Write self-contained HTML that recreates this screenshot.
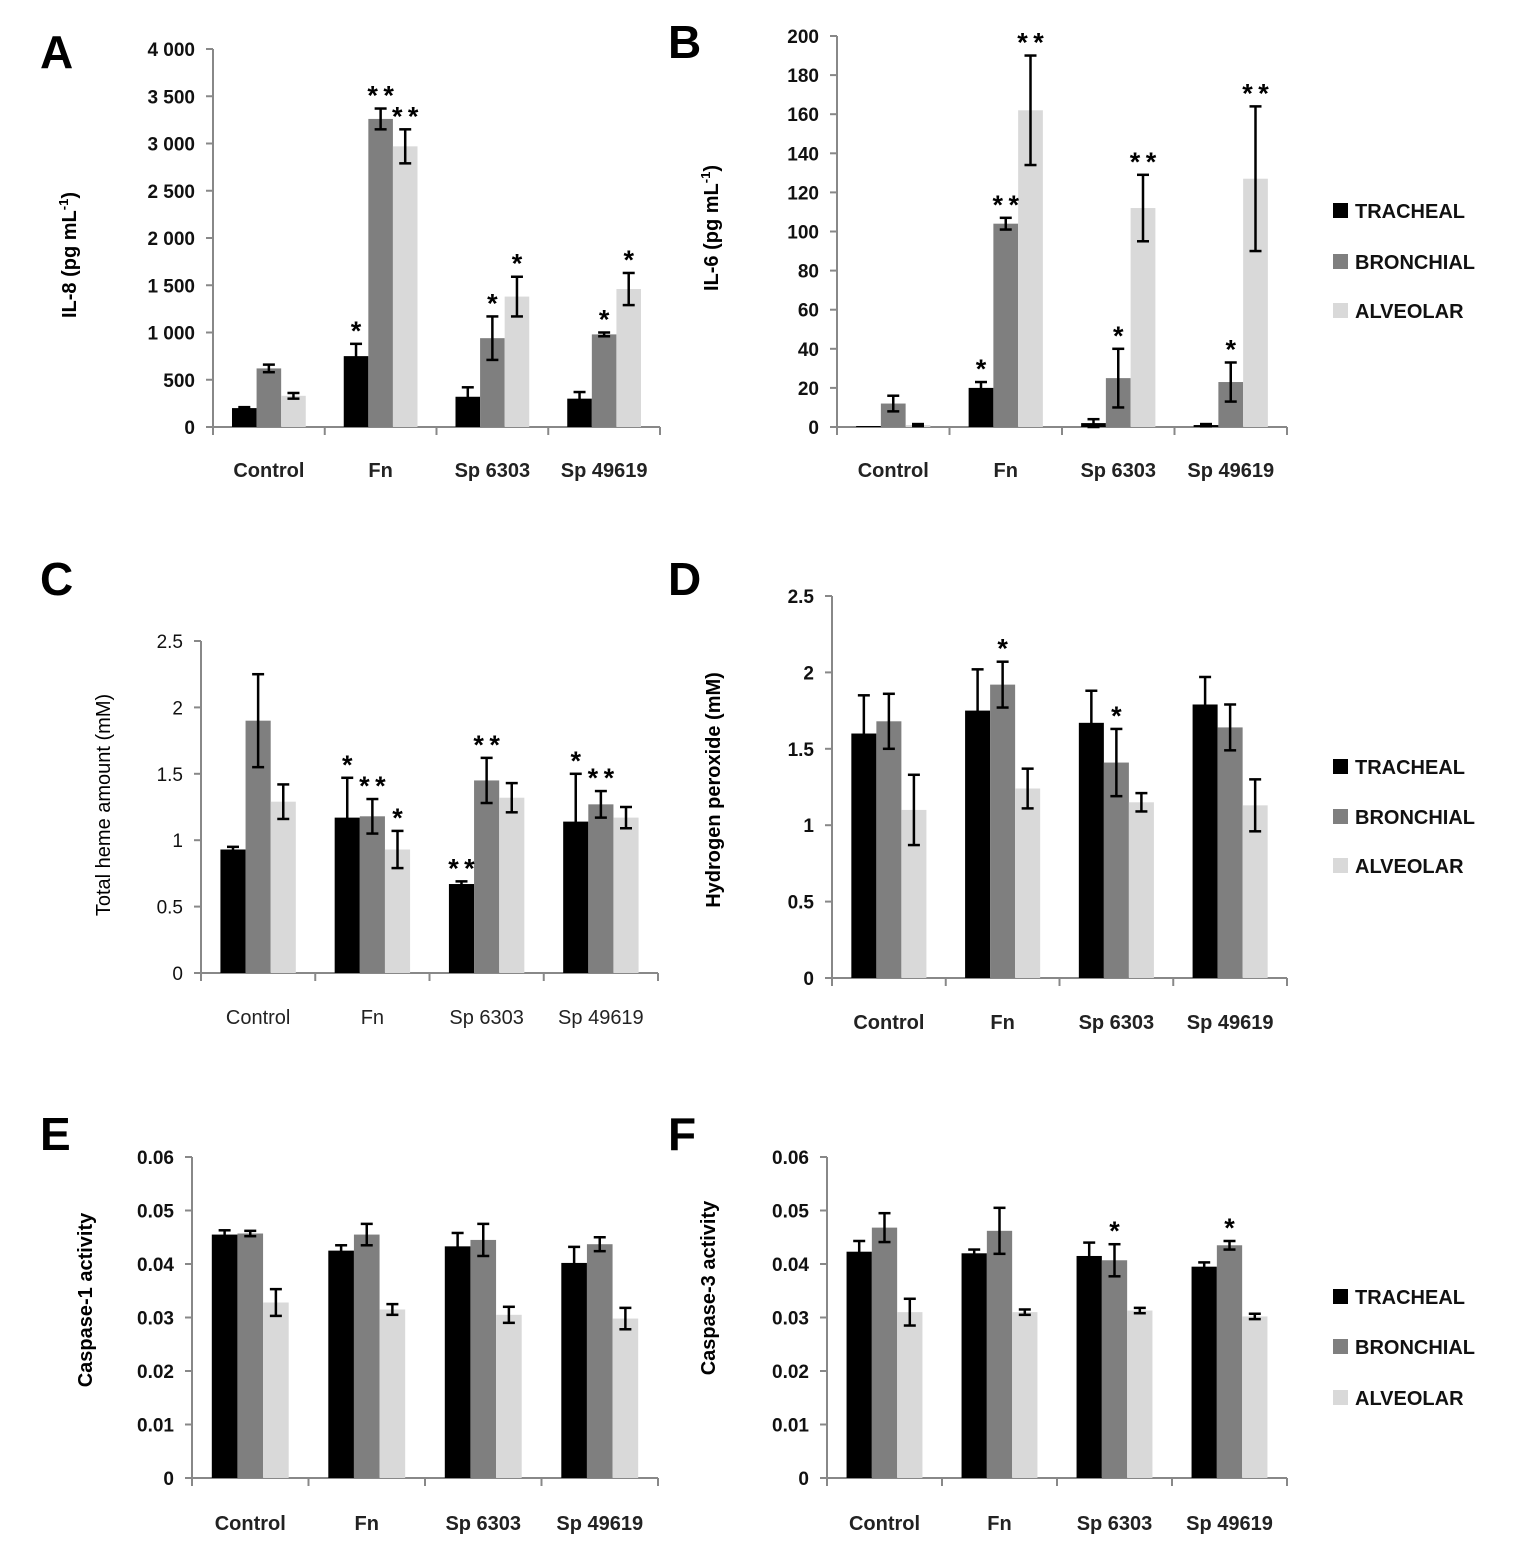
<!DOCTYPE html>
<html><head><meta charset="utf-8"><style>
html,body{margin:0;padding:0;background:#fff;}
svg{display:block;font-family:"Liberation Sans","DejaVu Sans",sans-serif;}
</style></head><body>
<svg id="fig" width="1520" height="1560" viewBox="0 0 1520 1560" xmlns="http://www.w3.org/2000/svg"></svg>
<script>
const categories = ["Control","Fn","Sp 6303","Sp 49619"];
const seriesNames = ["TRACHEAL","BRONCHIAL","ALVEOLAR"];
// Panel A IL-8
const aTracheal=[200,750,320,300], aTrachealErr=[10,130,100,70];
const aBronchial=[620,3260,940,980], aBronchialErr=[40,110,230,20];
const aAlveolar=[330,2970,1380,1460], aAlveolarErr=[30,180,210,170];
const aStars=[["","",""],["*","**","**"],["","*","*"],["","*","*"]];
const aTicks=["0","500","1 000","1 500","2 000","2 500","3 000","3 500","4 000"];
// Panel B IL-6
const bTracheal=[0.5,20,2,1], bTrachealErr=[0,3,2,0.5];
const bBronchial=[12,104,25,23], bBronchialErr=[4,3,15,10];
const bAlveolar=[1,162,112,127], bAlveolarErr=[0.5,28,17,37];
const bStars=[["","",""],["*","**","**"],["","*","**"],["","*","**"]];
const bTicks=["0","20","40","60","80","100","120","140","160","180","200"];
// Panel C heme
const cTracheal=[0.93,1.17,0.67,1.14], cTrachealErr=[0.02,0.3,0.02,0.36];
const cBronchial=[1.9,1.18,1.45,1.27], cBronchialErr=[0.35,0.13,0.17,0.1];
const cAlveolar=[1.29,0.93,1.32,1.17], cAlveolarErr=[0.13,0.14,0.11,0.08];
const cStars=[["","",""],["*","**","*"],["**","**",""],["*","**",""]];
const cTicks=["0","0.5","1","1.5","2","2.5"];
// Panel D H2O2
const dTracheal=[1.6,1.75,1.67,1.79], dTrachealErr=[0.25,0.27,0.21,0.18];
const dBronchial=[1.68,1.92,1.41,1.64], dBronchialErr=[0.18,0.15,0.22,0.15];
const dAlveolar=[1.1,1.24,1.15,1.13], dAlveolarErr=[0.23,0.13,0.06,0.17];
const dStars=[["","",""],["","*",""],["","*",""],["","",""]];
const dTicks=["0","0.5","1","1.5","2","2.5"];
// Panel E caspase-1
const eTracheal=[0.0455,0.0425,0.0433,0.0402], eTrachealErr=[0.0008,0.001,0.0025,0.003];
const eBronchial=[0.0457,0.0455,0.0445,0.0437], eBronchialErr=[0.0005,0.002,0.003,0.0013];
const eAlveolar=[0.0328,0.0315,0.0305,0.0298], eAlveolarErr=[0.0025,0.001,0.0015,0.002];
const eStars=[["","",""],["","",""],["","",""],["","",""]];
const eTicks=["0","0.01","0.02","0.03","0.04","0.05","0.06"];
// Panel F caspase-3
const fTracheal=[0.0423,0.042,0.0415,0.0395], fTrachealErr=[0.002,0.0007,0.0025,0.0008];
const fBronchial=[0.0468,0.0462,0.0407,0.0435], fBronchialErr=[0.0027,0.0043,0.003,0.0008];
const fAlveolar=[0.031,0.031,0.0313,0.0302], fAlveolarErr=[0.0025,0.0005,0.0005,0.0005];
const fStars=[["","",""],["","",""],["","*",""],["","*",""]];
const fTicks=["0","0.01","0.02","0.03","0.04","0.05","0.06"];

const NS="http://www.w3.org/2000/svg";
const svg=document.getElementById('fig');
const colors=["#000000","#7f7f7f","#d9d9d9"];
function mk(tag,attrs,parent,text){const e=document.createElementNS(NS,tag);for(const k in attrs)e.setAttribute(k,attrs[k]);if(text!==undefined)e.textContent=text;(parent||svg).appendChild(e);return e;}

const panels=[
 {id:"a",letter:"A",lx:40,ly:68,x0:213,x1:660,y0:427,y1:49,max:4000,ticks:aTicks,title:"IL-8 (pg mL",sup:"-1",tx:76,ty:255,lab:470,light:false,vals:[aTracheal,aBronchial,aAlveolar],errs:[aTrachealErr,aBronchialErr,aAlveolarErr],stars:aStars},
 {id:"b",letter:"B",lx:668,ly:58,x0:837,x1:1287,y0:427,y1:36,max:200,ticks:bTicks,title:"IL-6 (pg mL",sup:"-1",tx:718,ty:228,lab:470,light:false,vals:[bTracheal,bBronchial,bAlveolar],errs:[bTrachealErr,bBronchialErr,bAlveolarErr],stars:bStars,legend:[211,262,311]},
 {id:"c",letter:"C",lx:40,ly:595,x0:201,x1:658,y0:973,y1:641,max:2.5,ticks:cTicks,title:"Total heme amount (mM)",tx:110,ty:805,lab:1017,light:true,vals:[cTracheal,cBronchial,cAlveolar],errs:[cTrachealErr,cBronchialErr,cAlveolarErr],stars:cStars},
 {id:"d",letter:"D",lx:668,ly:595,x0:832,x1:1287,y0:978,y1:596,max:2.5,ticks:dTicks,title:"Hydrogen peroxide (mM)",tx:720,ty:790,lab:1022,light:false,vals:[dTracheal,dBronchial,dAlveolar],errs:[dTrachealErr,dBronchialErr,dAlveolarErr],stars:dStars,legend:[767,817,866]},
 {id:"e",letter:"E",lx:40,ly:1150,x0:192,x1:658,y0:1478,y1:1157,max:0.06,ticks:eTicks,title:"Caspase-1 activity",tx:92,ty:1300,lab:1523,light:false,vals:[eTracheal,eBronchial,eAlveolar],errs:[eTrachealErr,eBronchialErr,eAlveolarErr],stars:eStars},
 {id:"f",letter:"F",lx:668,ly:1150,x0:827,x1:1287,y0:1478,y1:1157,max:0.06,ticks:fTicks,title:"Caspase-3 activity",tx:715,ty:1288,lab:1523,light:false,vals:[fTracheal,fBronchial,fAlveolar],errs:[fTrachealErr,fBronchialErr,fAlveolarErr],stars:fStars,legend:[1297,1347,1398]}
];

panels.forEach(p=>{
  const g=mk('g',{});
  
  
  const yS=v=>p.y0-(v/p.max)*(p.y0-p.y1);
  const gw=(p.x1-p.x0)/categories.length;
  const bw=gw*0.22;
  const fw=p.light?"normal":"bold";
  const L=mk('text',{x:p.lx,y:p.ly,'font-size':46,'font-weight':'bold'},g,p.letter);
  
  
  const ya=mk('line',{x1:p.x0,y1:p.y0,x2:p.x0,y2:p.y1,stroke:'#888','stroke-width':2},g);
  
  
  p.ticks.forEach((t,i)=>{
    const y=p.y0-i*(p.y0-p.y1)/(p.ticks.length-1);
    mk('line',{x1:p.x0-7,y1:y,x2:p.x0,y2:y,stroke:'#888','stroke-width':2},g);
    const tl=mk('text',{x:p.x0-18,y:y+7,'font-size':19,'font-weight':fw,'text-anchor':'end',fill:'#111'},g,t);
    
    
  });
  const xa=mk('line',{x1:p.x0,y1:p.y0,x2:p.x1,y2:p.y0,stroke:'#888','stroke-width':2},g);
  
  
  for(let i=0;i<=categories.length;i++){const x=p.x0+i*gw;mk('line',{x1:x,y1:p.y0,x2:x,y2:p.y0+8,stroke:'#888','stroke-width':2},g);}
  const tt=mk('text',{x:0,y:0,'font-size':20,'font-weight':fw,'text-anchor':'middle',transform:`translate(${p.tx},${p.ty}) rotate(-90)`},g,p.title);
  if(p.sup){mk('tspan',{'font-size':13,dy:-8},tt,p.sup);mk('tspan',{dy:8},tt,")");}
  
  
  const barLayer=mk('g',{},g), errLayer=mk('g',{},g), starLayer=mk('g',{},g);
  categories.forEach((c,ci)=>{
    const gx=p.x0+ci*gw+(gw-3*bw)/2;
    const cl=mk('text',{x:p.x0+ci*gw+gw/2,y:p.lab+7,'font-size':20,'font-weight':fw,'text-anchor':'middle',fill:'#222'},g,c);
    
    
    for(let s=0;s<3;s++){
      const v=p.vals[s][ci], e=p.errs[s][ci];
      const x=gx+s*bw, y=yS(v);
      const r=mk('rect',{x:x,y:y,width:bw,height:p.y0-y,fill:colors[s]},barLayer);
      
      
      const cx=x+bw/2, yt=yS(v+e), yb=yS(Math.max(0,v-e));
      if(e>0){
        mk('line',{x1:cx,y1:yt,x2:cx,y2:yb,stroke:'#000','stroke-width':2.5},errLayer);
        mk('line',{x1:cx-6,y1:yt,x2:cx+6,y2:yt,stroke:'#000','stroke-width':2.5},errLayer);
        mk('line',{x1:cx-6,y1:yb,x2:cx+6,y2:yb,stroke:'#000','stroke-width':2.5},errLayer);
      }
      const st=p.stars[ci][s];
      if(st){
        const star=mk('text',{x:cx,y:yt-4,'font-size':27,'text-anchor':'middle','font-weight':'bold'},starLayer,st.split('').join('\u2009'));
        
        
      }
    }
  });
  if(p.legend){
    p.legend.forEach((ly,s)=>{
      const lg=mk('g',{},g);
      
      
      mk('rect',{x:1333,y:ly-8,width:15,height:15,fill:colors[s]},lg);
      mk('text',{x:1355,y:ly+7,'font-size':20,'font-weight':'bold',fill:'#111'},lg,seriesNames[s]);
    });
  }
});
</script>
</body></html>
